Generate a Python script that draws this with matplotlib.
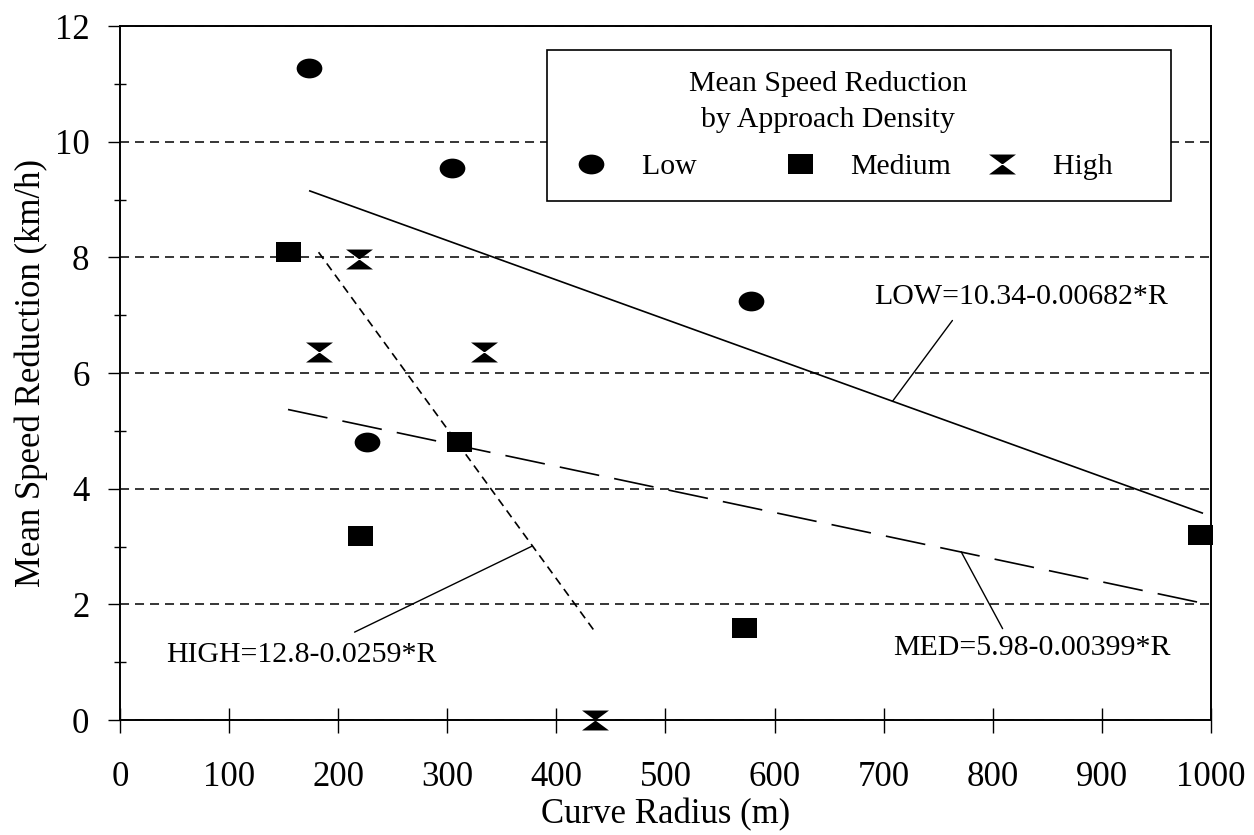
import matplotlib.pyplot as plt
from matplotlib.path import Path
from matplotlib.ticker import MultipleLocator
import numpy as np

plt.rcParams['font.family'] = ['Liberation Serif', 'DejaVu Serif']
plt.rcParams['lines.scale_dashes'] = False


# --------------------- data

low_r = [173, 304, 578, 226]
low_v = [11.28, 9.55, 7.25, 4.81]

med_r = [154, 220, 311, 572, 990]
med_v = [8.10, 3.18, 4.81, 1.60, 3.20]

high_r = [219, 182, 334, 435]
high_v = [7.98, 6.37, 6.37, 0.0]

# regression lines, drawn between their end points
low_fit_r = [174, 992]
low_fit_v = [9.15, 3.58]
med_fit_r = [154, 990]
med_fit_v = [5.37, 2.03]
high_fit_r = [182, 436]
high_fit_v = [8.09, 1.51]

eq_labels = ["LOW=10.34-0.00682*R", "MED=5.98-0.00399*R", "HIGH=12.8-0.0259*R"]
eq_text_pos = [(826, 7.32), (836, 1.25), (166, 1.13)]
eq_leader_from = [(763, 6.91), (809, 1.58), (215, 1.52)]
eq_leader_to = [(708, 5.51), (771, 2.91), (378, 3.01)]

legend_labels = ["Low", "Medium", "High"]
legend_title = "Mean Speed Reduction\nby Approach Density"


# --------------------- markers

def ellipse_marker():
    circ = Path.unit_circle()
    verts = circ.vertices * np.array([1.0, 0.77])
    return Path(verts, circ.codes)


def rect_marker():
    verts = [(-1, -0.8), (1, -0.8), (1, 0.8), (-1, 0.8), (-1, -0.8)]
    codes = [Path.MOVETO, Path.LINETO, Path.LINETO, Path.LINETO, Path.CLOSEPOLY]
    return Path(verts, codes)


def bowtie_marker():
    verts = [(-1, 0.74), (1, 0.74), (0, 0), (-1, 0.74),
             (-1, -0.74), (1, -0.74), (0, 0), (-1, -0.74)]
    codes = [Path.MOVETO, Path.LINETO, Path.LINETO, Path.CLOSEPOLY] * 2
    return Path(verts, codes)


def pad_label(text, width):
    # the old spreadsheet legend used equal column widths
    return text + ' ' * width


# --------------------- figure

fig = plt.figure(figsize=(12.54, 8.35), dpi=100)
ax = fig.add_axes([0.0957, 0.1377, 0.870, 0.831])

ax.set_xlim(0, 1000)
ax.set_ylim(0, 12)

ax.yaxis.grid(True, which='major', color='k', linewidth=1.1,
              linestyle=(0, (6.5, 4.3)))
ax.set_axisbelow(True)

ax.plot(low_fit_r, low_fit_v, color='k', linewidth=1.2, zorder=2)
ax.plot(med_fit_r, med_fit_v, color='k', linewidth=1.2,
        linestyle=(0, (29, 11)), zorder=2)
ax.plot(high_fit_r, high_fit_v, color='k', linewidth=1.2,
        linestyle=(0, (6, 4)), zorder=2)

pts_low, = ax.plot(low_r, low_v, linestyle='none', marker=ellipse_marker(),
                   markersize=18.5, color='k', markeredgewidth=0,
                   clip_on=False, zorder=3)
pts_med, = ax.plot(med_r, med_v, linestyle='none', marker=rect_marker(),
                   markersize=18, color='k', markeredgewidth=0,
                   clip_on=False, zorder=3)
pts_high, = ax.plot(high_r, high_v, linestyle='none', marker=bowtie_marker(),
                    markersize=19.4, color='k', markeredgewidth=0,
                    clip_on=False, zorder=3)

for label, pos, p0, p1 in zip(eq_labels, eq_text_pos, eq_leader_from, eq_leader_to):
    ax.text(pos[0], pos[1], label, ha='center', va='center', fontsize=21.5)
    ax.annotate('', xy=p1, xytext=p0,
                arrowprops=dict(arrowstyle='-', color='k', lw=1.0,
                                shrinkA=0, shrinkB=0))

leg_labels = [pad_label(legend_labels[0], 7), legend_labels[1],
              pad_label(legend_labels[2], 5)]
leg = ax.legend([pts_low, pts_med, pts_high], leg_labels, ncol=3,
                loc='upper left', bbox_to_anchor=(0.391, 0.7474, 0.572, 0.218),
                mode='expand', borderaxespad=0, title=legend_title,
                fontsize=21.5, title_fontsize=21.5, numpoints=1,
                fancybox=False, edgecolor='k', framealpha=1,
                handlelength=1.6, handletextpad=0.9, borderpad=0.7,
                labelspacing=0.7)
leg.get_frame().set_linewidth(1.2)
leg.get_title().set_multialignment('center')
leg.get_title().set_linespacing(1.48)
leg.get_title().set_x(-31)

ax.xaxis.set_major_locator(MultipleLocator(100))
ax.yaxis.set_major_locator(MultipleLocator(2))
ax.yaxis.set_minor_locator(MultipleLocator(1))

ax.tick_params(axis='x', which='major', direction='inout', length=18,
               width=1, pad=20.5, labelsize=25)
ax.tick_params(axis='y', which='major', direction='out', length=8.6,
               width=1, pad=13.4, labelsize=25)
ax.tick_params(axis='y', which='minor', direction='inout', length=8.6, width=1)
ax.tick_params(top=False, right=False, which='both')

for s in ax.spines.values():
    s.set_linewidth(1.4)

ax.set_xlabel('Curve Radius (m)', fontsize=25)
ax.xaxis.set_label_coords(0.5, -0.1126)
ax.set_ylabel('Mean Speed Reduction (km/h)', fontsize=25)
ax.yaxis.set_label_coords(-0.066, 0.5)

fig.savefig('out.png', dpi=100)
plt.close(fig)
